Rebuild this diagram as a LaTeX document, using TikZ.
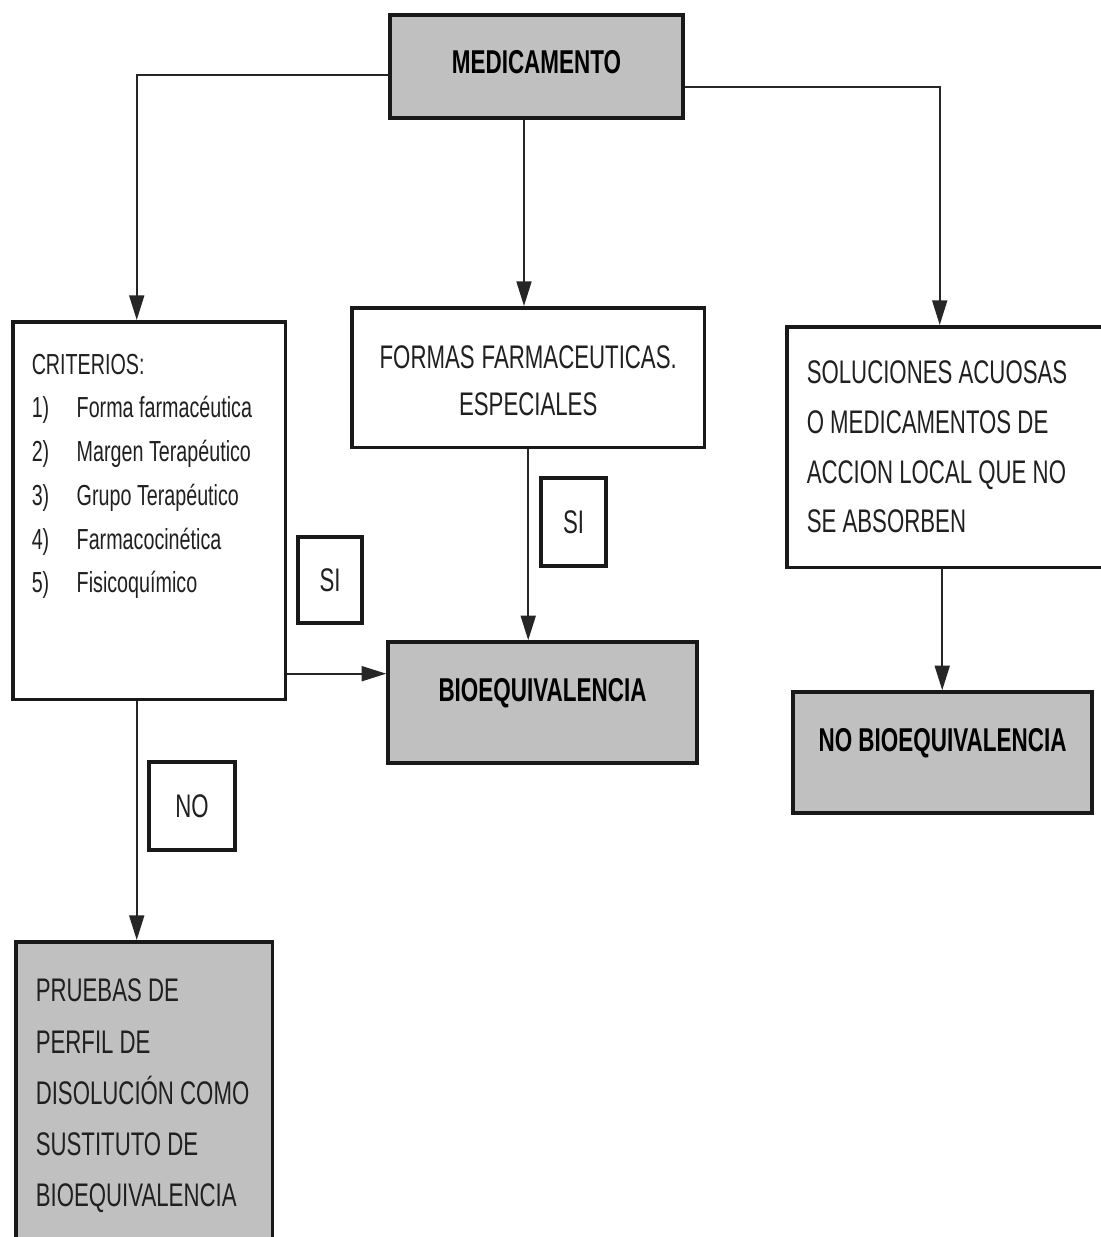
\documentclass[tikz,border=0pt]{standalone}
\usepackage{fontspec}
\setmainfont{Liberation Sans}[FakeStretch=0.68]
\usetikzlibrary{arrows.meta}

\definecolor{boxgray}{HTML}{C0C0C0}
\definecolor{txtgray}{HTML}{202020}

\tikzstyle{box}=[draw=black!90, line width=2pt, inner sep=0pt,
                 execute at begin node={\spaceskip=0pt\xspaceskip=0pt}]
\tikzstyle{greybox}=[box, fill=boxgray, font=\bfseries\fontsize{18.8pt}{22pt}\selectfont]
\tikzstyle{plainbox}=[box, fill=white, text=txtgray]
\tikzstyle{answer}=[plainbox, font=\fontsize{18.6pt}{22pt}\selectfont]
\tikzstyle{link}=[->, line width=1.1pt, draw=black!85]

\newcommand{\itemno}[1]{\makebox[0.9cm][l]{#1}}

\begin{document}
\begin{tikzpicture}[x=0.02cm, y=-0.02cm, >={Triangle[length=14pt,width=8.5pt]}]
    \useasboundingbox (0,0) rectangle (1100,1237);

    % boxes
    \node [greybox, minimum width=5.86cm, minimum height=2.06cm, text depth=0.18cm] (med) at (536.5,66.5) {MEDICAMENTO};
    \node [plainbox, anchor=north west, align=left, text width=4.7cm, inner xsep=0.38cm,
           text height=1.05cm, text depth=6.51cm, font=\fontsize{16.5pt}{24.9pt}\selectfont] (crit) at (11,320)
          {CRITERIOS:\\
           \itemno{1)}Forma farmacéutica\\
           \itemno{2)}Margen Terapéutico\\
           \itemno{3)}Grupo Terapéutico\\
           \itemno{4)}Farmacocinética\\
           \itemno{5)}Fisicoquímico};
    \node [plainbox, anchor=north west, align=center, text width=6.66cm, inner xsep=0.2cm,
           text height=1.22cm, text depth=1.58cm, font=\fontsize{18.6pt}{26.7pt}\selectfont] (formas) at (350,306)
          {FORMAS FARMACEUTICAS.\\ ESPECIALES};
    \node [plainbox, anchor=north west, align=left, text width=5.52cm, inner xsep=0.4cm,
           text height=1.13cm, text depth=3.69cm, font=\fontsize{18.6pt}{28.4pt}\selectfont] (sol) at (785,325)
          {SOLUCIONES~ACUOSAS\\ O MEDICAMENTOS DE\\ ACCION LOCAL QUE NO\\ SE ABSORBEN};
    \node [greybox, minimum width=6.18cm, minimum height=2.42cm, text depth=0.5cm] (bio) at (542.5,702.5) {BIOEQUIVALENCIA};
    \node [greybox, minimum width=5.98cm, minimum height=2.42cm, text depth=0.5cm] (nobio) at (942.5,752.5) {NO BIOEQUIVALENCIA};
    \node [plainbox, fill=boxgray, anchor=north west, align=left, text width=4.34cm, inner xsep=0.4cm,
           text height=1.2cm, text depth=5cm, font=\fontsize{18.6pt}{29.2pt}\selectfont] (pruebas) at (14,940)
          {PRUEBAS DE\\ PERFIL DE\\ DISOLUCIÓN~COMO\\ SUSTITUTO DE\\ BIOEQUIVALENCIA};

    % answers
    \node [answer, minimum width=1.28cm, minimum height=1.72cm] (si1) at (330,580) {SI};
    \node [answer, minimum width=1.3cm, minimum height=1.76cm] (si2) at (573.5,522) {SI};
    \node [answer, minimum width=1.72cm, minimum height=1.76cm] (no) at (192,806) {NO};

    % connectors
    \draw [link] ([yshift=-0.17cm]med.west) -| ([xshift=-0.25cm]crit.north);
    \draw [link] ([xshift=-0.25cm]med.south) -- ([xshift=-0.25cm]med.south |- formas.north);
    \draw [link] ([yshift=-0.41cm]med.east) -| ([xshift=-0.1cm]sol.north);
    \draw [link] ([yshift=-3.26cm]crit.east) -- ([yshift=-3.26cm]crit.east -| bio.west);
    \draw [link] (formas.south) -- (formas.south |- bio.north);
    \draw [link] ([xshift=-0.05cm]sol.south) -- ([xshift=-0.05cm]sol.south |- nobio.north);
    \draw [link] ([xshift=-0.25cm]crit.south) -- ([xshift=-0.25cm]crit.south |- pruebas.north);
\end{tikzpicture}
\end{document}
